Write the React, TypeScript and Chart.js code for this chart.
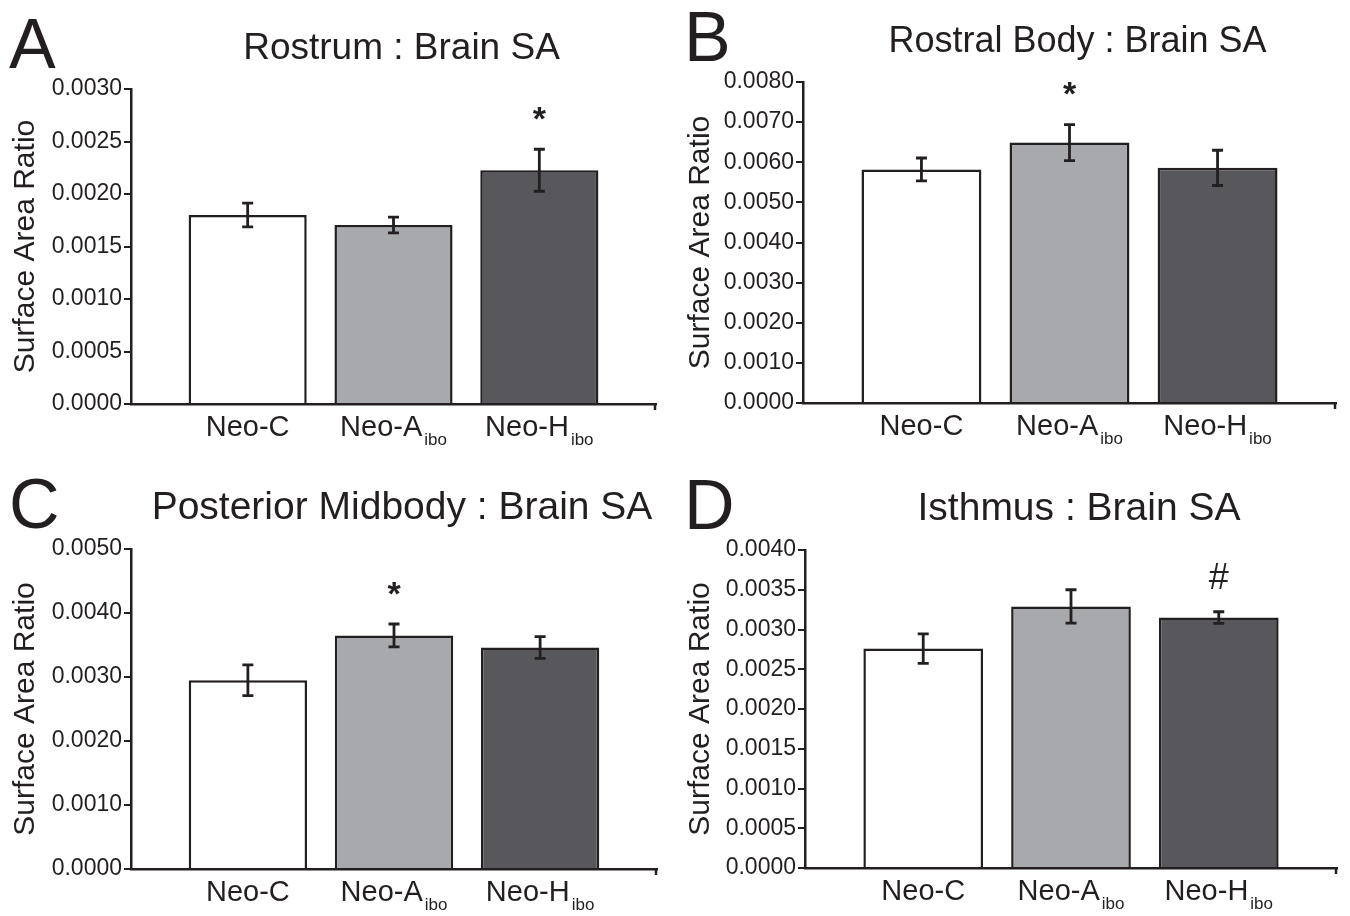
import React, { useEffect, useRef } from "react";
import { Chart, registerables } from "chart.js";

Chart.register(...registerables);

const FONT = '"Liberation Sans", Arial, Helvetica, sans-serif';
const INK = "#231f20";

// ---- categories ----
const groupLabels = ["Neo-C", "Neo-A", "Neo-H"];
const groupSubscripts = ["", "ibo", "ibo"];
const groupPositions = [0, 1, 2];
const groupFills = ["#ffffff", "#a7a9ac", "#58585c"];

const panelLetters = ["A", "B", "C", "D"];
const panelTitles = [
  "Rostrum : Brain SA",
  "Rostral Body : Brain SA",
  "Posterior Midbody : Brain SA",
  "Isthmus : Brain SA",
];
const yAxisTitle = "Surface Area Ratio";

// ---- A: Rostrum ----
const rostrumMean = [0.0018, 0.001705, 0.002226];
const rostrumSem = [0.000113, 0.000075, 0.0002];
const rostrumMarks = ["", "", "*"];
const rostrumTicks = [0, 0.0005, 0.001, 0.0015, 0.002, 0.0025, 0.003];

// ---- B: Rostral Body ----
const rostralBodyMean = [0.00582, 0.00649, 0.00586];
const rostralBodySem = [0.000286, 0.000448, 0.000439];
const rostralBodyMarks = ["", "*", ""];
const rostralBodyTicks = [0, 0.001, 0.002, 0.003, 0.004, 0.005, 0.006, 0.007, 0.008];

// ---- C: Posterior Midbody ----
const midbodyMean = [0.00295, 0.00365, 0.00346];
const midbodySem = [0.00024, 0.000178, 0.00017];
const midbodyMarks = ["", "*", ""];
const midbodyTicks = [0, 0.001, 0.002, 0.003, 0.004, 0.005];

// ---- D: Isthmus ----
const isthmusMean = [0.00276, 0.00329, 0.00315];
const isthmusSem = [0.000186, 0.00021, 0.000073];
const isthmusMarks = ["", "", "#"];
const isthmusTicks = [0, 0.0005, 0.001, 0.0015, 0.002, 0.0025, 0.003, 0.0035, 0.004];

const panelMeans = [rostrumMean, rostralBodyMean, midbodyMean, isthmusMean];
const panelSems = [rostrumSem, rostralBodySem, midbodySem, isthmusSem];
const panelMarks = [rostrumMarks, rostralBodyMarks, midbodyMarks, isthmusMarks];
const panelTicks = [rostrumTicks, rostralBodyTicks, midbodyTicks, isthmusTicks];

// ---- layout (pixels) ----
const CW = 675;
const CH = 458;
const panelFrames = [
  { left: 0, top: 0, chartLeft: 131, chartRight: 656, chartTop: 89, chartBottom: 404, titleSize: 37 },
  { left: 675, top: 0, chartLeft: 128, chartRight: 661, chartTop: 82, chartBottom: 403, titleSize: 36 },
  { left: 0, top: 458, chartLeft: 131, chartRight: 657, chartTop: 91, chartBottom: 411, titleSize: 39 },
  { left: 675, top: 458, chartLeft: 130, chartRight: 662, chartTop: 92, chartBottom: 410, titleSize: 39 },
];

function makeDecorPlugin(idx: number) {
  const means = panelMeans[idx];
  const sems = panelSems[idx];
  const marks = panelMarks[idx];
  return {
    id: "panelDecor" + idx,
    afterDatasetsDraw(chart: any) {
      const ctx = chart.ctx;
      const xs = chart.scales.x;
      const ys = chart.scales.y;
      ctx.save();
      ctx.strokeStyle = INK;
      ctx.fillStyle = INK;
      ctx.lineWidth = 2.8;
      for (let i = 0; i < means.length; i++) {
        const x = xs.getPixelForValue(groupPositions[i]);
        const yHi = ys.getPixelForValue(means[i] + sems[i]);
        const yLo = ys.getPixelForValue(means[i] - sems[i]);
        ctx.beginPath();
        ctx.moveTo(x, yHi);
        ctx.lineTo(x, yLo);
        ctx.moveTo(x - 5.5, yHi);
        ctx.lineTo(x + 5.5, yHi);
        ctx.moveTo(x - 5.5, yLo);
        ctx.lineTo(x + 5.5, yLo);
        ctx.stroke();
        if (marks[i]) {
          ctx.font = marks[i] === "*" ? `bold 34px ${FONT}` : `36px ${FONT}`;
          ctx.textAlign = "center";
          ctx.textBaseline = "alphabetic";
          const m = ctx.measureText(marks[i]);
          const cy = yHi - 36;
          const base = cy + (m.actualBoundingBoxAscent - m.actualBoundingBoxDescent) / 2;
          ctx.fillText(marks[i], x, base);
        }
      }
      ctx.restore();
    },
    afterDraw(chart: any) {
      const ctx = chart.ctx;
      const xs = chart.scales.x;
      const area = chart.chartArea;
      const f = panelFrames[idx];
      ctx.save();
      ctx.fillStyle = INK;
      ctx.strokeStyle = INK;
      // panel letter
      ctx.textAlign = "left";
      ctx.textBaseline = "alphabetic";
      ctx.font = `70px ${FONT}`;
      ctx.fillText(panelLetters[idx], 9, area.top - 21);
      // panel title
      ctx.textAlign = "center";
      ctx.font = `${f.titleSize}px ${FONT}`;
      ctx.fillText(panelTitles[idx], (area.left + area.right) / 2 + 8, area.top - 30);
      // end tick of x axis
      ctx.lineWidth = 2.5;
      ctx.beginPath();
      ctx.moveTo(area.right - 1, area.bottom);
      ctx.lineTo(area.right - 1, area.bottom + 6);
      ctx.stroke();
      // category labels with subscripts
      for (let i = 0; i < groupLabels.length; i++) {
        const x = xs.getPixelForValue(groupPositions[i]);
        ctx.font = `29px ${FONT}`;
        const w1 = ctx.measureText(groupLabels[i]).width;
        ctx.font = `17px ${FONT}`;
        const sub = groupSubscripts[i];
        const w2 = sub ? ctx.measureText(sub).width + 2 : 0;
        const start = x - (w1 + w2) / 2;
        ctx.textAlign = "left";
        ctx.font = `29px ${FONT}`;
        ctx.fillText(groupLabels[i], start, area.bottom + 32);
        if (sub) {
          ctx.font = `17px ${FONT}`;
          ctx.fillText(sub, start + w1 + 2, area.bottom + 41);
        }
      }
      ctx.restore();
    },
  };
}

function Panel({ idx }: { idx: number }) {
  const ref = useRef<HTMLCanvasElement | null>(null);
  useEffect(() => {
    if (!ref.current) return;
    const f = panelFrames[idx];
    const means = panelMeans[idx];
    const ticks = panelTicks[idx];
    const chart = new Chart(ref.current, {
      type: "bar",
      data: {
        datasets: [
          {
            data: means.map((v, i) => ({ x: groupPositions[i], y: v })),
            backgroundColor: groupFills,
            borderColor: INK,
            borderWidth: 2.5,
            barPercentage: 0.81,
            categoryPercentage: 1,
          } as any,
        ],
      },
      options: {
        animation: false,
        responsive: false,
        devicePixelRatio: 1,
        layout: {
          padding: { left: 0, right: CW - f.chartRight, top: f.chartTop, bottom: CH - f.chartBottom },
        },
        plugins: {
          legend: { display: false },
          tooltip: { enabled: false },
          title: { display: false },
        },
        scales: {
          x: {
            type: "linear",
            offset: false,
            min: -0.8,
            max: 2.8,
            afterBuildTicks: (s: any) => {
              s.ticks = groupPositions.map((v) => ({ value: v }));
            },
            afterFit: (s: any) => {
              s.height = 0;
            },
            ticks: { display: false },
            grid: { display: false, offset: false },
            border: { display: true, color: INK, width: 2.5 },
          },
          y: {
            min: 0,
            max: ticks[ticks.length - 1],
            afterBuildTicks: (s: any) => {
              s.ticks = ticks.map((v) => ({ value: v }));
            },
            afterFit: (s: any) => {
              s.width = f.chartLeft;
            },
            ticks: {
              callback: (v: any) => Number(v).toFixed(4),
              font: { family: FONT, size: 23 },
              color: INK,
              padding: 2,
            },
            grid: { drawOnChartArea: false, drawTicks: true, tickLength: 7, color: INK, lineWidth: 2 },
            border: { display: true, color: INK, width: 2.5 },
            title: {
              display: true,
              text: yAxisTitle,
              font: { family: FONT, size: 30 },
              color: INK,
              padding: { top: 8, bottom: 0 },
            },
          },
        },
      } as any,
      plugins: [makeDecorPlugin(idx)],
    });
    return () => chart.destroy();
  }, [idx]);
  const f = panelFrames[idx];
  return (
    <canvas
      ref={ref}
      width={CW}
      height={CH}
      style={{ position: "absolute", left: f.left, top: f.top, width: CW, height: CH }}
    />
  );
}

export default function App() {
  return (
    <div style={{ position: "fixed", left: 0, top: 0, width: 1350, height: 916, background: "#ffffff" }}>
      {panelFrames.map((_, i) => (
        <Panel key={i} idx={i} />
      ))}
    </div>
  );
}
